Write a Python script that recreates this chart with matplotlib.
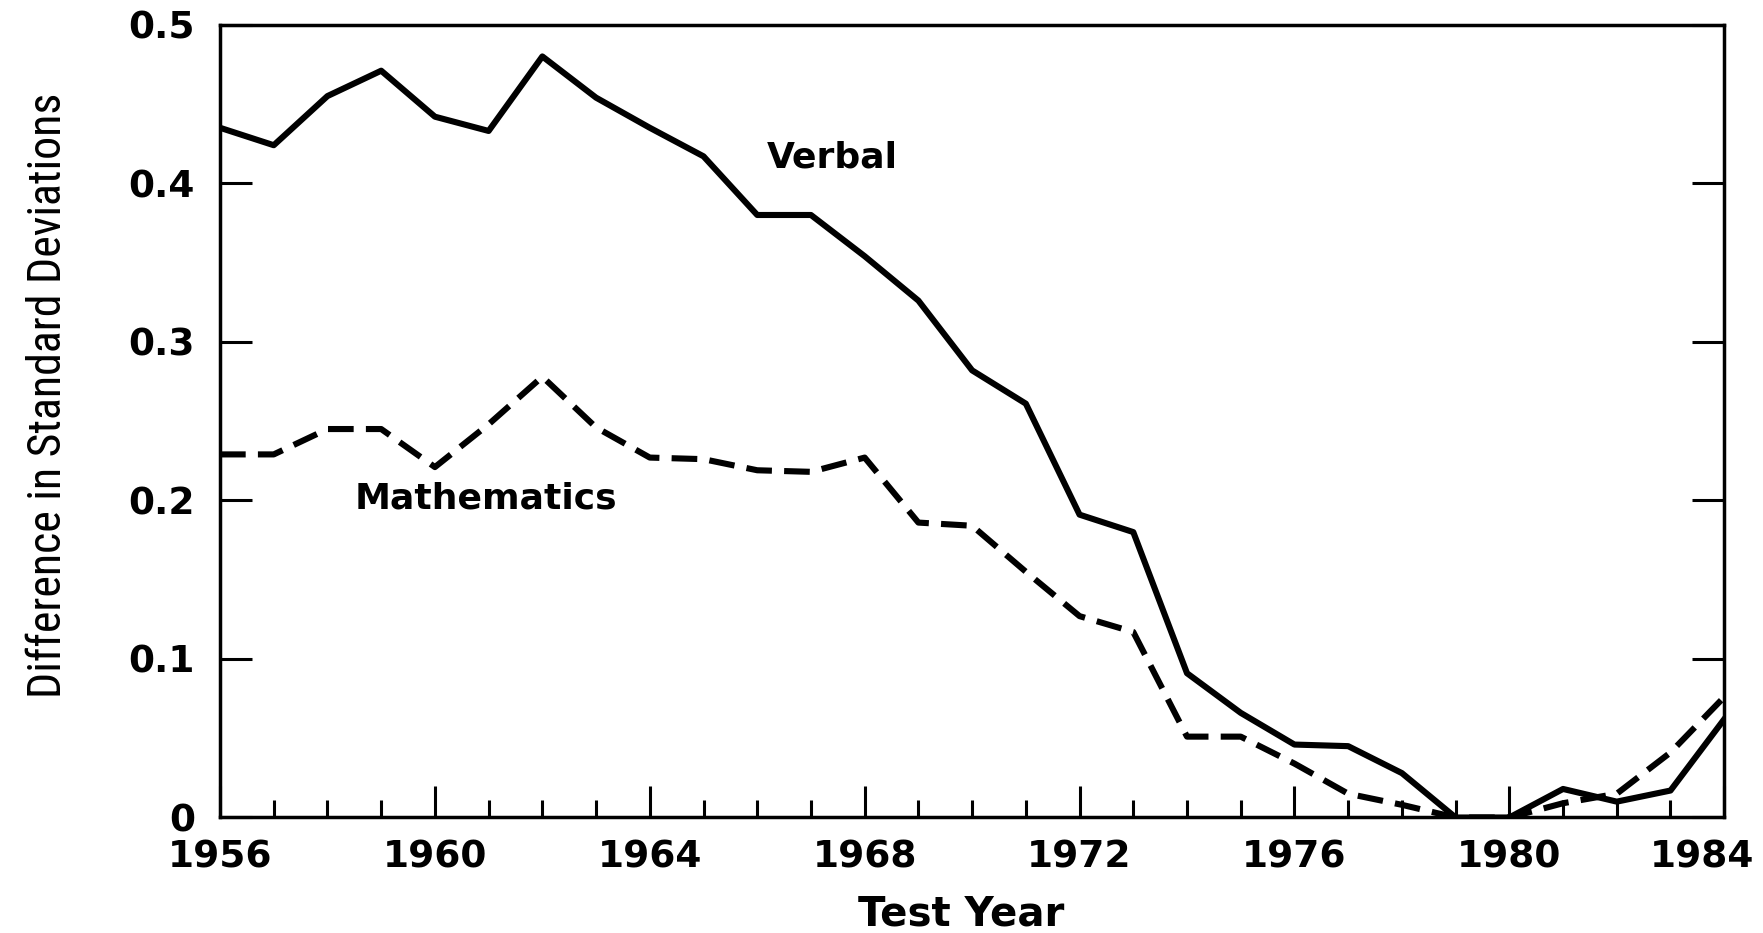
import matplotlib
matplotlib.use("Agg")
import matplotlib.pyplot as plt
import matplotlib.transforms as mtransforms
from matplotlib.ticker import MultipleLocator
from matplotlib import font_manager

years = list(range(1956, 1985))

# SD difference
verbal = [0.435, 0.424, 0.455, 0.471, 0.442, 0.433, 0.480, 0.454, 0.435, 0.417,
          0.380, 0.380, 0.354, 0.326, 0.282, 0.261, 0.191, 0.180, 0.091, 0.066,
          0.046, 0.045, 0.028, 0.0, 0.0, 0.018, 0.010, 0.017, 0.062]
math = [0.229, 0.229, 0.245, 0.245, 0.221, 0.248, 0.278, 0.246, 0.227, 0.226,
        0.219, 0.218, 0.227, 0.186, 0.184, 0.155, 0.127, 0.117, 0.051, 0.051,
        0.034, 0.015, 0.008, 0.0, 0.0, 0.009, 0.015, 0.041, 0.076]

ytick_vals = [0, 0.1, 0.2, 0.3, 0.4, 0.5]
ytick_labels = ["0", "0.1", "0.2", "0.3", "0.4", "0.5"]
xtick_vals = [1956, 1960, 1964, 1968, 1972, 1976, 1980, 1984]

# look for a narrow sans for the y label, fall back to DejaVu
narrow_prop = None
prefer = ["Liberation Sans Narrow", "Roboto Condensed", "Open Sans Condensed",
          "Noto Sans Condensed", "DejaVu Sans Condensed"]
fonts = font_manager.fontManager.ttflist
for name in prefer:
    hits = [f for f in fonts if f.name == name and f.style == "normal"
            and f.weight in (400, "normal", "regular")]
    if hits:
        narrow_prop = font_manager.FontProperties(fname=hits[0].fname)
        break
if narrow_prop is None:
    hits = [f for f in fonts if str(f.stretch) in ("condensed", "semi-condensed")
            and f.style == "normal" and f.weight in (400, "normal", "regular")
            and "Mono" not in f.name and "Serif" not in f.name]
    if hits:
        narrow_prop = font_manager.FontProperties(fname=hits[0].fname)
if narrow_prop is not None:
    narrow_prop.set_size(33)
else:
    narrow_prop = font_manager.FontProperties(family="DejaVu Sans", size=24.5)

fig = plt.figure(figsize=(17.63, 9.33), dpi=100)
ax = fig.add_axes([0.1248, 0.1238, 0.978 - 0.1248, 0.9735 - 0.1238])

ax.plot(years, verbal, color="black", lw=4.4)
ax.plot(years, math, color="black", lw=4.4, dashes=(4.2, 2.0))

ax.set_xlim(1956, 1984)
ax.set_ylim(0, 0.5)

for s in ax.spines.values():
    s.set_linewidth(2.5)

ax.set_xticks(xtick_vals)
ax.xaxis.set_minor_locator(MultipleLocator(1))
ax.set_yticks(ytick_vals)
ax.set_yticklabels(ytick_labels)

ax.tick_params(axis="x", which="major", direction="in", length=22, width=2.2,
               pad=16, labelsize=27, top=False)
ax.tick_params(axis="x", which="minor", direction="in", length=12, width=2.2, top=False)
ax.tick_params(axis="y", which="major", direction="in", length=23, width=2.2,
               pad=18, labelsize=27, right=True)
for lab in ax.get_xticklabels() + ax.get_yticklabels():
    lab.set_fontweight("bold")

# last year label sits a bit left of the corner
last = ax.get_xticklabels()[-1]
last.set_transform(last.get_transform() +
                   mtransforms.ScaledTranslation(-22 / 100, 0, fig.dpi_scale_trans))

ax.set_xlabel("Test Year", fontsize=29, fontweight="bold")
ax.xaxis.set_label_coords(0.493, -0.097)
ax.set_ylabel("Difference in Standard Deviations", fontproperties=narrow_prop)
ax.yaxis.set_label_coords(-0.1, 0.532)

ax.text(1967.4, 0.416, "Verbal", fontsize=26, fontweight="bold",
        ha="center", va="center")
ax.text(1960.95, 0.201, "Mathematics", fontsize=26, fontweight="bold",
        ha="center", va="center")

fig.savefig("out.png", dpi=100)
